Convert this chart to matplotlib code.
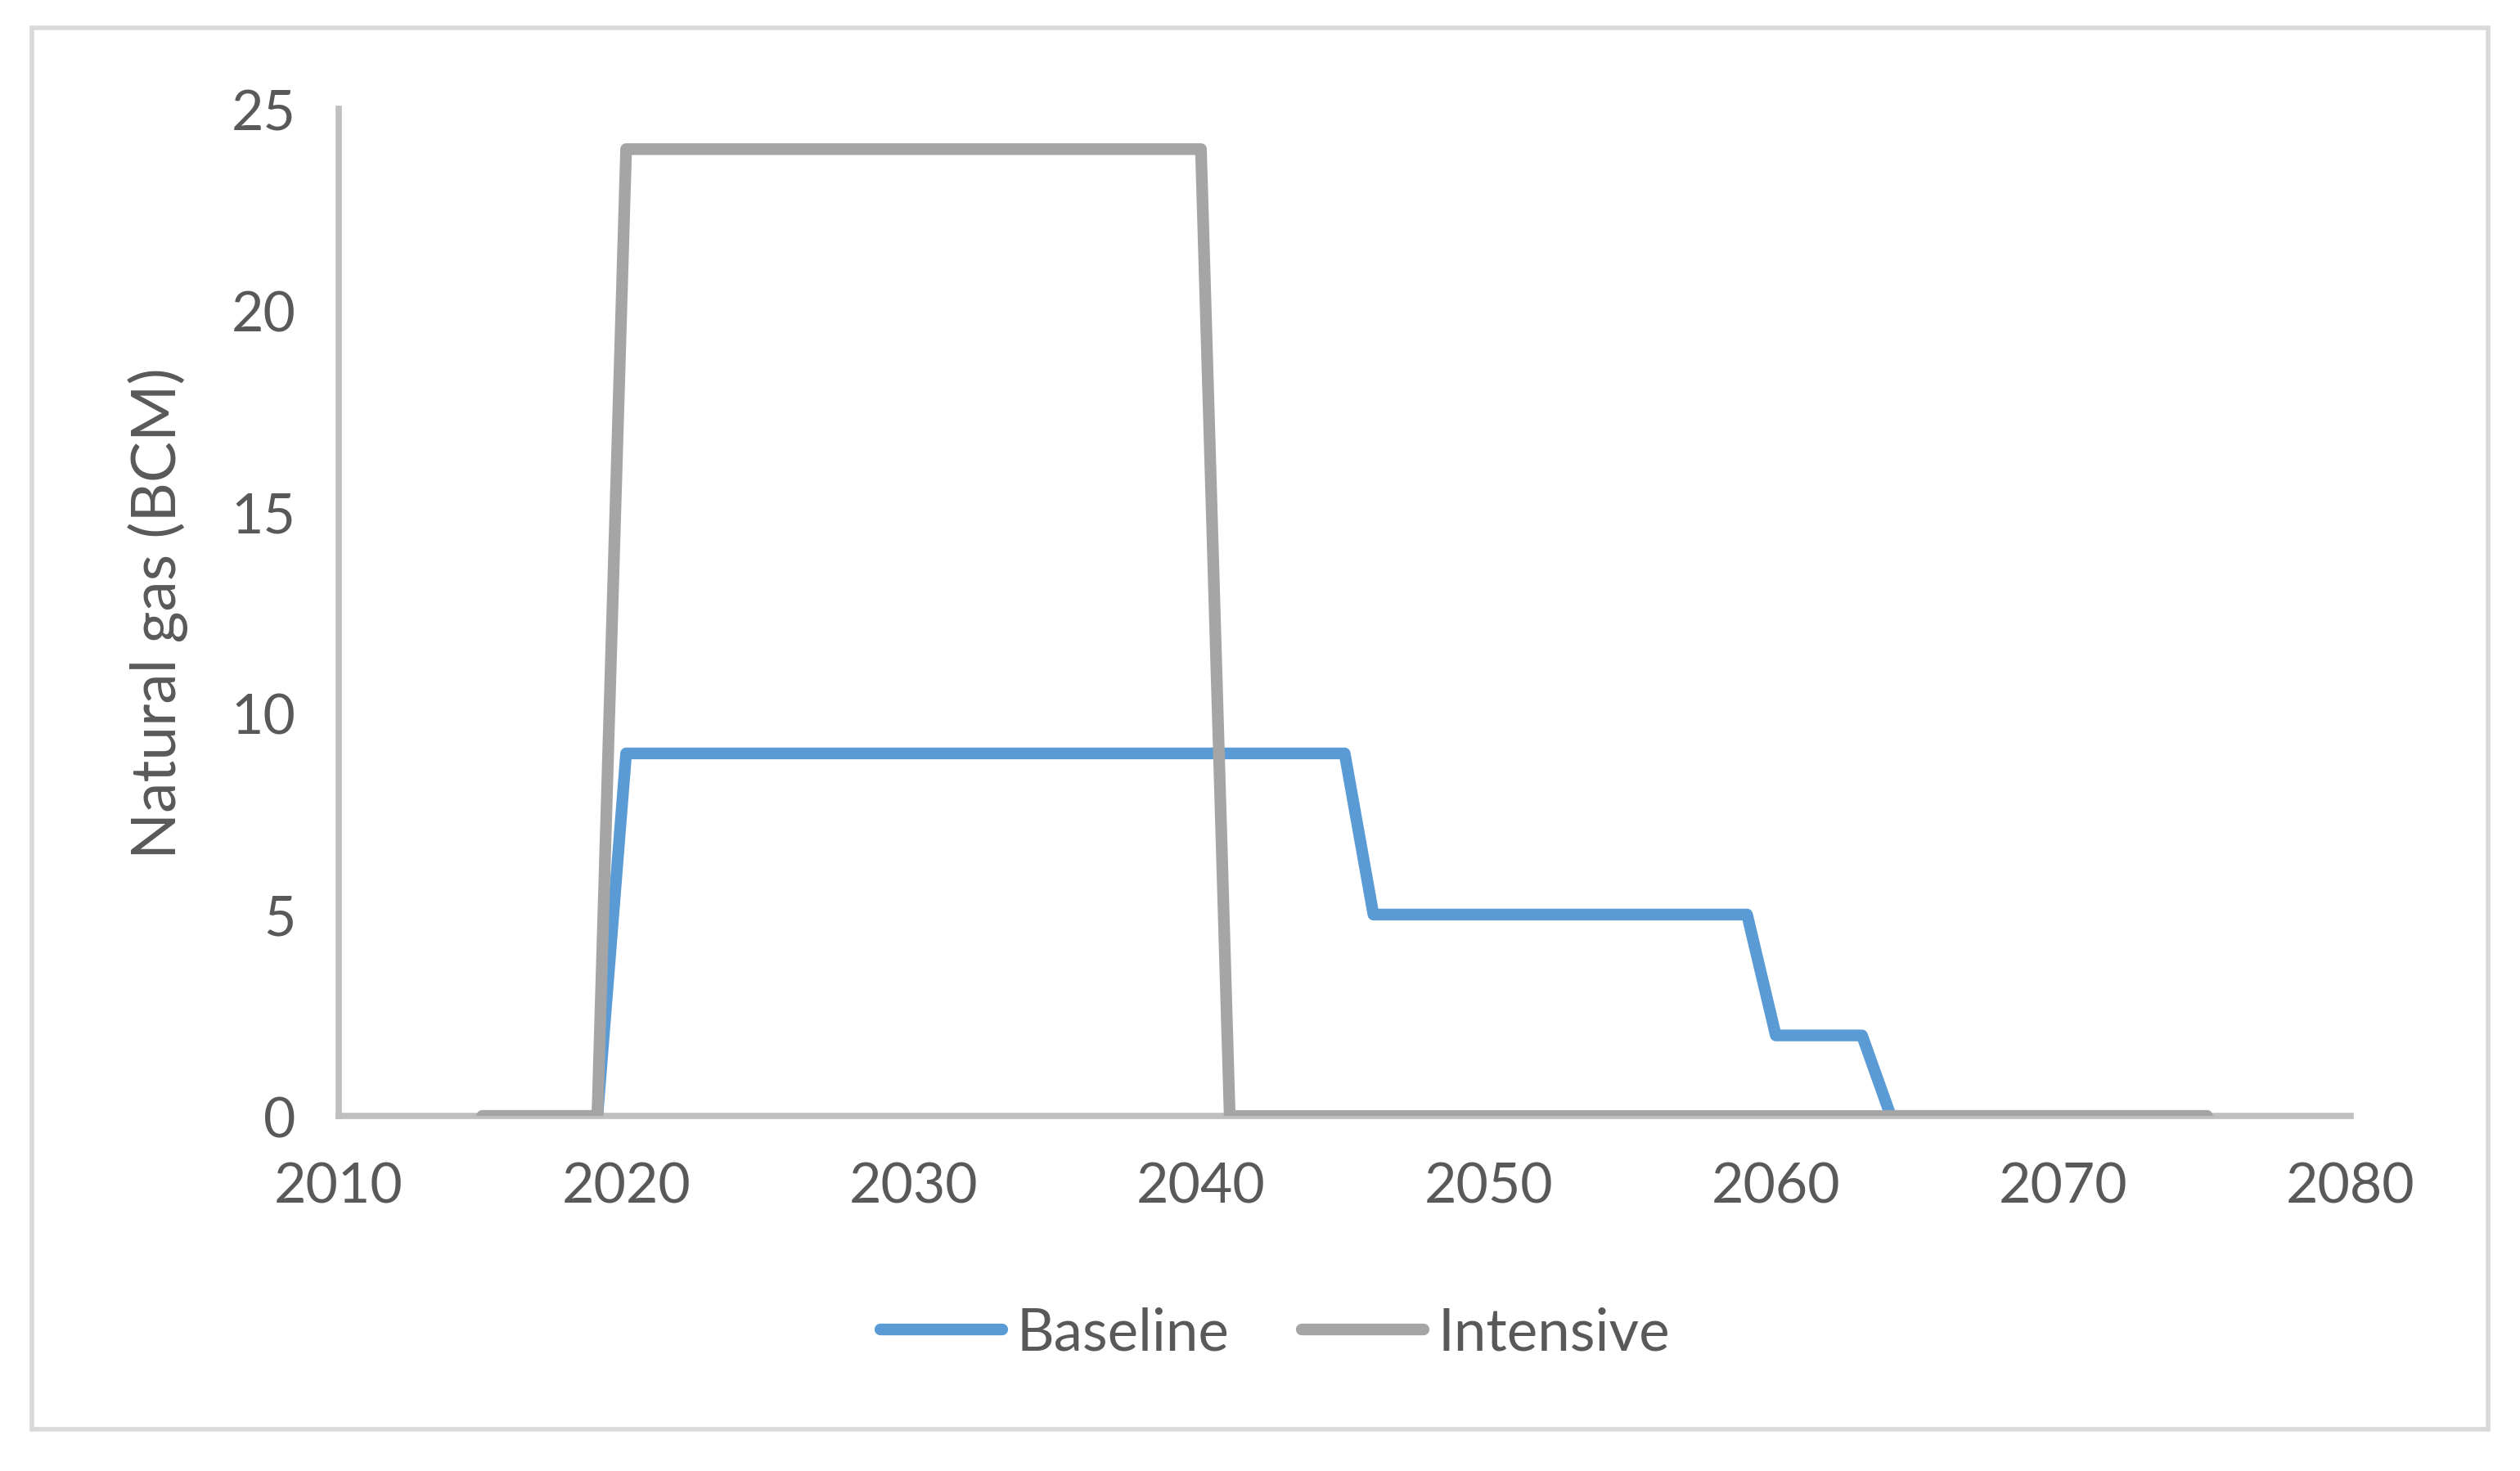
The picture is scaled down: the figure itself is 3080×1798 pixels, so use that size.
import numpy as np
import matplotlib
matplotlib.use("Agg")
import matplotlib.pyplot as plt
from matplotlib.patches import Rectangle

# breakpoints of each series (year, BCM)
base_years = [2015, 2019, 2020, 2045, 2046, 2059, 2060, 2063, 2064, 2075]
base_vals = [0, 0, 9, 9, 5, 5, 2, 2, 0, 0]
int_years = [2015, 2019, 2020, 2040, 2041, 2075]
int_vals = [0, 0, 24, 24, 0, 0]

xticks = [2010, 2020, 2030, 2040, 2050, 2060, 2070, 2080]
yticks = [0, 5, 10, 15, 20, 25]

plt.rcParams['font.family'] = ['Lato', 'DejaVu Sans']
txt = '#595959'

fig = plt.figure(figsize=(30.8, 17.99), dpi=100)
ax = fig.add_axes([0.1344, 0.2412, 0.7984, 0.6843])

ax.plot(base_years, base_vals, color='#5B9BD5', lw=10.3, label='Baseline',
        solid_capstyle='round', solid_joinstyle='round', zorder=3)
ax.plot(int_years, int_vals, color='#A5A5A5', lw=10.3, label='Intensive',
        solid_capstyle='round', solid_joinstyle='round', zorder=4)

ax.set_xlim(2010, 2080)
ax.set_ylim(0, 25)
ax.set_xticks(xticks)
ax.set_yticks(yticks)
ax.tick_params(length=0, labelsize=49, labelcolor=txt)
ax.tick_params(axis='x', pad=40)
ax.tick_params(axis='y', pad=38)
for s in ['top', 'right']:
    ax.spines[s].set_visible(False)
for s in ['left', 'bottom']:
    ax.spines[s].set_color('#BFBFBF')
    ax.spines[s].set_linewidth(5.5)
ax.set_ylabel('Natural gas (BCM)', fontsize=54, color=txt, labelpad=38)

leg = fig.legend(loc='center', bbox_to_anchor=(0.506, 0.094), ncol=2,
                 frameon=False, fontsize=51, handlelength=2.1,
                 handletextpad=0.25, columnspacing=1.25, labelcolor=txt)

fig.patches.append(Rectangle((0.0127, 0.0284), 0.9746, 0.9522, transform=fig.transFigure,
                             fill=False, edgecolor='#D9D9D9', lw=4))

fig.savefig('out.png', dpi=100)
